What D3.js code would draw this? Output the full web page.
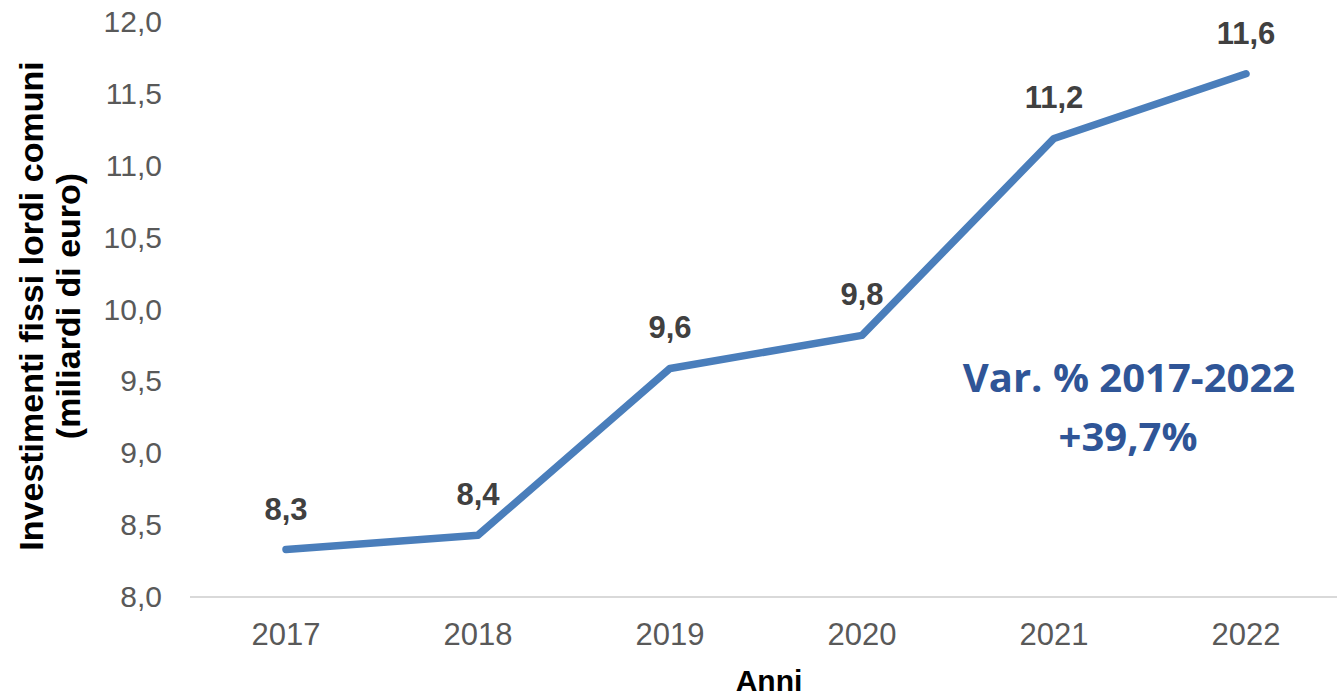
<!DOCTYPE html>
<html lang="it">
<head>
<meta charset="utf-8" />
<title></title>
<script src="https://cdn.jsdelivr.net/npm/d3@7"></script>
<style>
  body { margin: 0; background: #fff; }
  svg { display: block; }
</style>
</head>
<body>
<script>
// dati
var anni = ["2017", "2018", "2019", "2020", "2021", "2022"];
var investimenti = [8.33, 8.43, 9.59, 9.82, 11.19, 11.64];
var etichette = ["8,3", "8,4", "9,6", "9,8", "11,2", "11,6"];
var yTicks = [8, 8.5, 9, 9.5, 10, 10.5, 11, 11.5, 12];

var W = 1337, H = 699;
var svg = d3.select("body").append("svg").attr("width", W).attr("height", H);

var x = d3.scaleBand().domain(anni).range([190, 1342]);
var y = d3.scaleLinear().domain([8, 12]).range([597, 22]);
var fmt = function (v) { return d3.format(".1f")(v).replace(".", ","); };
var font = "Liberation Sans, Arial, sans-serif";

// asse y (solo etichette)
var yAxis = svg.append("g")
    .attr("transform", "translate(190,0)")
    .call(d3.axisLeft(y).tickValues(yTicks).tickFormat(fmt).tickSize(0).tickPadding(28));
yAxis.select(".domain").remove();
yAxis.selectAll("text")
    .attr("font-family", font)
    .attr("font-size", 30)
    .attr("fill", "#595959");

// asse x
var xAxis = svg.append("g")
    .attr("transform", "translate(0,597)")
    .call(d3.axisBottom(x).tickSize(0).tickPadding(26));
xAxis.select(".domain").attr("stroke", "#d9d9d9").attr("stroke-width", 2)
    .attr("d", "M190,0H1337");
xAxis.selectAll("text")
    .attr("font-family", font)
    .attr("font-size", 31)
    .attr("fill", "#595959");

// linea
var line = d3.line()
    .x(function (d, i) { return x(anni[i]) + x.bandwidth() / 2; })
    .y(function (d) { return y(d); });

svg.append("path")
    .datum(investimenti)
    .attr("d", line)
    .attr("fill", "none")
    .attr("stroke", "#4a7ebb")
    .attr("stroke-width", 7.5)
    .attr("stroke-linejoin", "round")
    .attr("stroke-linecap", "round");

// etichette dati
svg.selectAll("text.lab")
    .data(investimenti)
    .enter()
    .append("text")
    .attr("class", "lab")
    .attr("x", function (d, i) { return x(anni[i]) + x.bandwidth() / 2; })
    .attr("y", function (d) { return y(d) - 30; })
    .attr("text-anchor", "middle")
    .attr("font-family", font)
    .attr("font-weight", "bold")
    .attr("font-size", 31)
    .attr("fill", "#404040")
    .text(function (d, i) { return etichette[i]; });

// titoli assi
svg.append("text")
    .attr("x", 769).attr("y", 691)
    .attr("text-anchor", "middle")
    .attr("font-family", font)
    .attr("font-weight", "bold")
    .attr("font-size", 30)
    .attr("fill", "#000")
    .text("Anni");

var yt = svg.append("text")
    .attr("transform", "translate(43,306) rotate(-90)")
    .attr("text-anchor", "middle")
    .attr("font-family", font)
    .attr("font-weight", "bold")
    .attr("font-size", 34)
    .attr("fill", "#000");
yt.append("tspan").attr("x", 0).attr("dy", 0).text("Investimenti fissi lordi comuni");
yt.append("tspan").attr("x", 0).attr("dy", 37).text("(miliardi di euro)");

// annotazione
var ann = svg.append("text")
    .attr("text-anchor", "middle")
    .attr("font-family", "Open Sans, Lato, sans-serif")
    .attr("font-weight", "bold")
    .attr("font-size", 40)
    .attr("fill", "#2f5597");
ann.append("tspan").attr("x", 1129).attr("y", 392).text("Var. % 2017-2022");
ann.append("tspan").attr("x", 1128).attr("y", 451).text("+39,7%");
</script>
</body>
</html>
